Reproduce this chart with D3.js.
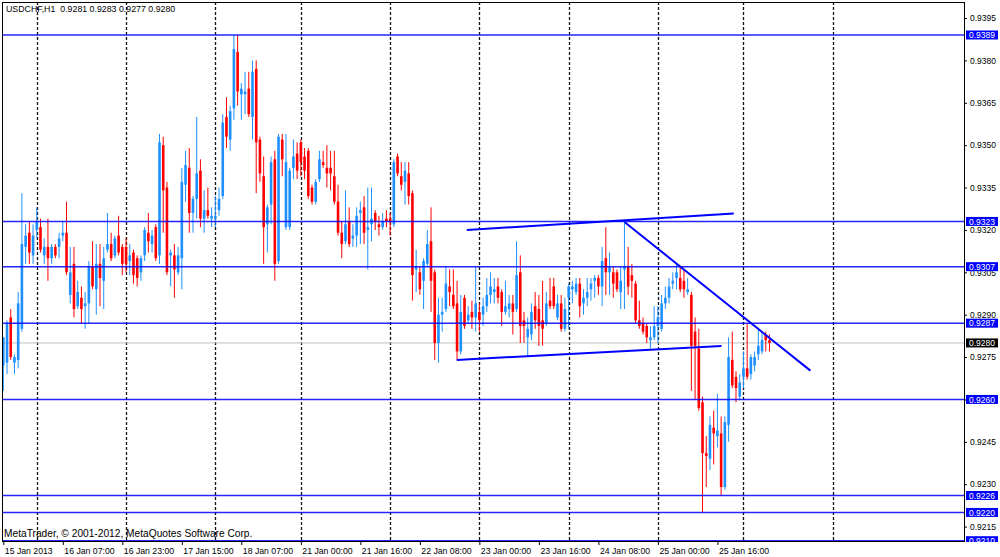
<!DOCTYPE html>
<html lang="en">
<head>
<meta charset="utf-8">
<title>USDCHF H1</title>
<script src="https://cdn.jsdelivr.net/npm/d3@7/dist/d3.min.js"></script>
<style>
body { margin: 0; background: #fff; }
svg { display: block; font-family: "Liberation Sans", Arial, sans-serif; }
</style>
</head>
<body>
<svg id="chart" width="1000" height="557"></svg>
<script>
// hourly bars
var opens = [
0.9272,0.9273,0.9289,0.9273,0.9274,0.9285,0.9314,0.9319,0.9311,0.9320,
0.9321,0.9311,0.9314,0.9310,0.9314,0.9314,0.9318,0.9319,0.9297,0.9308,
0.9293,0.9296,0.9293,0.9294,0.9307,0.9299,0.9308,0.9302,0.9313,0.9315,
0.9311,0.9318,0.9314,0.9314,0.9309,0.9312,0.9310,0.9305,0.9311,0.9319,
0.9315,0.9321,0.9311,0.9350,0.9335,0.9311,0.9311,0.9305,0.9310,0.9336,
0.9342,0.9326,0.9331,0.9341,0.9324,0.9327,0.9324,0.9324,0.9327,0.9332,
0.9360,0.9352,0.9363,0.9383,0.9368,0.9368,0.9370,0.9360,0.9377,0.9352,
0.9339,0.9322,0.9329,0.9345,0.9309,0.9352,0.9321,0.9321,0.9342,0.9347,
0.9351,0.9346,0.9348,0.9335,0.9330,0.9338,0.9344,0.9342,0.9342,0.9339,
0.9330,0.9319,0.9316,0.9323,0.9317,0.9318,0.9326,0.9328,0.9320,0.9322,
0.9326,0.9322,0.9321,0.9324,0.9324,0.9322,0.9346,0.9339,0.9337,0.9340,
0.9333,0.9306,0.9305,0.9302,0.9308,0.9316,0.9305,0.9280,0.9290,0.9292,
0.9300,0.9297,0.9294,0.9277,0.9296,0.9288,0.9291,0.9289,0.9291,0.9290,
0.9293,0.9297,0.9298,0.9300,0.9298,0.9291,0.9292,0.9294,0.9292,0.9305,
0.9288,0.9282,0.9283,0.9293,0.9292,0.9288,0.9287,0.9295,0.9300,0.9289,
0.9294,0.9285,0.9296,0.9299,0.9298,0.9301,0.9294,0.9296,0.9299,0.9302,
0.9303,0.9300,0.9310,0.9305,0.9305,0.9305,0.9298,0.9306,0.9307,0.9304,
0.9301,0.9288,0.9287,0.9286,0.9281,0.9282,0.9286,0.9285,0.9294,0.9296,
0.9301,0.9303,0.9303,0.9302,0.9298,0.9297,0.9284,0.9278,0.9259,0.9241,
0.9239,0.9250,0.9247,0.9248,0.9229,0.9251,0.9274,0.9268,0.9261,0.9268,
0.9271,0.9269,0.9272,0.9276,0.9277,0.9283,0.9281];
var highs = [
0.9282,0.9288,0.9292,0.9276,0.9298,0.9333,0.9322,0.9323,0.9322,0.9328,
0.9324,0.9317,0.9324,0.9315,0.9315,0.9319,0.9323,0.9330,0.9314,0.9314,
0.9302,0.9300,0.9298,0.9309,0.9316,0.9315,0.9315,0.9314,0.9326,0.9319,
0.9318,0.9325,0.9315,0.9317,0.9315,0.9313,0.9311,0.9311,0.9321,0.9326,
0.9320,0.9322,0.9354,0.9353,0.9337,0.9313,0.9315,0.9314,0.9342,0.9348,
0.9349,0.9332,0.9360,0.9345,0.9334,0.9335,0.9328,0.9332,0.9335,0.9361,
0.9367,0.9364,0.9389,0.9389,0.9372,0.9376,0.9376,0.9380,0.9380,0.9353,
0.9346,0.9329,0.9346,0.9348,0.9354,0.9354,0.9354,0.9342,0.9352,0.9351,
0.9352,0.9349,0.9349,0.9336,0.9338,0.9348,0.9348,0.9350,0.9348,0.9348,
0.9336,0.9323,0.9334,0.9328,0.9322,0.9328,0.9330,0.9332,0.9335,0.9335,
0.9327,0.9325,0.9326,0.9327,0.9326,0.9345,0.9347,0.9344,0.9344,0.9344,
0.9334,0.9313,0.9307,0.9310,0.9320,0.9328,0.9306,0.9296,0.9296,0.9307,
0.9306,0.9306,0.9302,0.9297,0.9297,0.9293,0.9295,0.9307,0.9294,0.9296,
0.9303,0.9305,0.9303,0.9303,0.9299,0.9302,0.9297,0.9297,0.9316,0.9311,
0.9291,0.9289,0.9294,0.9298,0.9297,0.9302,0.9298,0.9303,0.9303,0.9297,
0.9297,0.9296,0.9301,0.9302,0.9303,0.9303,0.9299,0.9303,0.9303,0.9304,
0.9304,0.9314,0.9321,0.9312,0.9307,0.9306,0.9307,0.9323,0.9314,0.9308,
0.9302,0.9295,0.9289,0.9287,0.9286,0.9293,0.9293,0.9297,0.9300,0.9303,
0.9305,0.9308,0.9307,0.9306,0.9303,0.9298,0.9289,0.9285,0.9261,0.9247,
0.9254,0.9256,0.9262,0.9254,0.9254,0.9282,0.9284,0.9270,0.9269,0.9277,
0.9287,0.9276,0.9277,0.9285,0.9284,0.9284,0.9283];
var lows = [
0.9263,0.9269,0.9274,0.9269,0.9271,0.9284,0.9308,0.9308,0.9308,0.9317,
0.9312,0.9308,0.9302,0.9308,0.9310,0.9310,0.9316,0.9304,0.9294,0.9289,
0.9292,0.9287,0.9285,0.9287,0.9299,0.9290,0.9293,0.9292,0.9312,0.9309,
0.9310,0.9311,0.9304,0.9305,0.9304,0.9301,0.9300,0.9302,0.9309,0.9312,
0.9312,0.9309,0.9308,0.9319,0.9304,0.9300,0.9296,0.9304,0.9299,0.9330,
0.9319,0.9319,0.9324,0.9321,0.9319,0.9324,0.9321,0.9321,0.9325,0.9331,
0.9349,0.9348,0.9359,0.9364,0.9359,0.9361,0.9360,0.9352,0.9333,0.9337,
0.9308,0.9312,0.9322,0.9302,0.9308,0.9339,0.9320,0.9320,0.9338,0.9338,
0.9339,0.9338,0.9331,0.9329,0.9329,0.9337,0.9342,0.9335,0.9334,0.9329,
0.9318,0.9310,0.9315,0.9314,0.9314,0.9314,0.9315,0.9315,0.9306,0.9316,
0.9320,0.9318,0.9320,0.9321,0.9318,0.9321,0.9339,0.9334,0.9329,0.9329,
0.9295,0.9298,0.9297,0.9292,0.9307,0.9291,0.9274,0.9273,0.9284,0.9291,
0.9293,0.9292,0.9274,0.9276,0.9285,0.9287,0.9285,0.9284,0.9284,0.9286,
0.9291,0.9294,0.9294,0.9294,0.9286,0.9290,0.9289,0.9283,0.9291,0.9280,
0.9280,0.9275,0.9281,0.9285,0.9279,0.9279,0.9286,0.9292,0.9292,0.9288,
0.9284,0.9284,0.9285,0.9294,0.9297,0.9289,0.9290,0.9293,0.9295,0.9296,
0.9297,0.9293,0.9297,0.9297,0.9296,0.9298,0.9292,0.9292,0.9297,0.9296,
0.9287,0.9285,0.9283,0.9280,0.9278,0.9281,0.9280,0.9284,0.9292,0.9294,
0.9299,0.9299,0.9298,0.9296,0.9297,0.9263,0.9260,0.9256,0.9220,0.9229,
0.9235,0.9237,0.9243,0.9226,0.9228,0.9245,0.9264,0.9259,0.9260,0.9264,
0.9267,0.9267,0.9270,0.9274,0.9276,0.9277,0.9277];
var closes = [
0.9282,0.9287,0.9275,0.9275,0.9294,0.9315,0.9318,0.9312,0.9318,0.9323,
0.9313,0.9314,0.9310,0.9314,0.9311,0.9317,0.9319,0.9305,0.9305,0.9292,
0.9298,0.9292,0.9294,0.9307,0.9300,0.9308,0.9303,0.9310,0.9315,0.9310,
0.9317,0.9312,0.9308,0.9308,0.9311,0.9304,0.9303,0.9310,0.9320,0.9316,
0.9318,0.9310,0.9351,0.9334,0.9305,0.9312,0.9306,0.9311,0.9337,0.9343,
0.9326,0.9331,0.9340,0.9324,0.9327,0.9325,0.9325,0.9325,0.9331,0.9358,
0.9353,0.9362,0.9384,0.9369,0.9370,0.9369,0.9361,0.9376,0.9351,0.9340,
0.9321,0.9328,0.9344,0.9308,0.9353,0.9345,0.9344,0.9341,0.9346,0.9341,
0.9344,0.9341,0.9332,0.9330,0.9337,0.9345,0.9343,0.9340,0.9340,0.9330,
0.9319,0.9315,0.9322,0.9315,0.9318,0.9325,0.9327,0.9319,0.9321,0.9324,
0.9323,0.9321,0.9323,0.9323,0.9323,0.9344,0.9340,0.9336,0.9341,0.9332,
0.9304,0.9307,0.9299,0.9309,0.9315,0.9302,0.9280,0.9290,0.9291,0.9301,
0.9298,0.9293,0.9277,0.9291,0.9286,0.9290,0.9289,0.9294,0.9288,0.9293,
0.9297,0.9300,0.9299,0.9296,0.9291,0.9293,0.9294,0.9291,0.9304,0.9286,
0.9286,0.9285,0.9291,0.9288,0.9286,0.9285,0.9294,0.9293,0.9293,0.9294,
0.9285,0.9292,0.9300,0.9300,0.9301,0.9293,0.9296,0.9298,0.9301,0.9303,
0.9300,0.9309,0.9305,0.9307,0.9301,0.9299,0.9302,0.9307,0.9300,0.9302,
0.9288,0.9286,0.9284,0.9282,0.9282,0.9286,0.9289,0.9294,0.9296,0.9300,
0.9302,0.9305,0.9299,0.9299,0.9299,0.9279,0.9279,0.9257,0.9241,0.9240,
0.9251,0.9248,0.9249,0.9229,0.9252,0.9275,0.9265,0.9264,0.9266,0.9271,
0.9268,0.9275,0.9275,0.9279,0.9281,0.9281,0.9280];

var title = 'USDCHF,H1  0.9281 0.9283 0.9277 0.9280';
var copyright = 'MetaTrader, \u00a9 2001-2012, MetaQuotes Software Corp.';

// time scale labels every 16 bars
var timeTickBars = [0,16,32,48,64,80,96,112,128,144,160,176,192];
var timeLabels = ['15 Jan 2013','16 Jan 07:00','16 Jan 23:00','17 Jan 15:00','18 Jan 07:00',
  '21 Jan 00:00','21 Jan 16:00','22 Jan 08:00','23 Jan 00:00','23 Jan 16:00',
  '24 Jan 08:00','25 Jan 00:00','25 Jan 16:00'];
// bars where a new day starts (dashed grid)
var dayBars = [9,33,57,80,104,128,152,176,199,223];

var priceTicks = [0.9395,0.9380,0.9365,0.9350,0.9335,0.9320,0.9305,0.9290,0.9275,0.9260,0.9245,0.9230,0.9215];
var levels = [0.9389,0.9323,0.9307,0.9287,0.9260,0.9226,0.9220,0.9210];
var lastPrice = 0.9280;

// trend lines: [bar1, price1, bar2, price2]
var trendLines = [
  [124.6, 0.93200, 196.4, 0.93258],
  [121.9, 0.92740, 193.1, 0.92789],
  [167.1, 0.93227, 217.0, 0.92702]
];

var bull = '#1e90ff', bear = '#ff0000', lineBlue = '#0000ff';
var L = 2, T = 2, R = 964, B = 541;
var font = '"Liberation Sans", Arial, sans-serif';

var svg = d3.select('#chart');
var x = d3.scaleLinear().domain([-0.35, 258.3]).range([L, R]);
var y = d3.scaleLinear().domain([0.9210, 0.9389]).range([540.7, 35]);

var defs = svg.append('defs');
defs.append('clipPath').attr('id', 'plot')
  .append('rect').attr('x', L).attr('y', T).attr('width', R - L).attr('height', B - T);
defs.append('clipPath').attr('id', 'axisclip')
  .append('rect').attr('x', R).attr('y', 0).attr('width', 1000 - R).attr('height', B + 1);

svg.append('rect').attr('width', 1000).attr('height', 557).attr('fill', '#fff');

var plot = svg.append('g').attr('clip-path', 'url(#plot)');

// day separators
plot.selectAll('line.day').data(dayBars).join('line')
  .attr('class', 'day')
  .attr('x1', d => Math.round(x(d)) + 0.5).attr('x2', d => Math.round(x(d)) + 0.5)
  .attr('y1', T).attr('y2', B)
  .attr('stroke', '#111').attr('stroke-width', 1.3).attr('stroke-dasharray', '3,2');

// bid line
plot.append('line')
  .attr('x1', L).attr('x2', R).attr('y1', y(lastPrice)).attr('y2', y(lastPrice))
  .attr('stroke', '#c0c0c0').attr('stroke-width', 1);

var bars = d3.range(opens.length).map(i => ({i: i, o: opens[i], h: highs[i], l: lows[i], c: closes[i]}));
var col = d => d.c >= d.o ? bull : bear;

plot.selectAll('line.wick').data(bars).join('line')
  .attr('class', 'wick')
  .attr('x1', d => x(d.i)).attr('x2', d => x(d.i))
  .attr('y1', d => y(d.h)).attr('y2', d => y(d.l))
  .attr('stroke', col).attr('stroke-width', 1);

plot.selectAll('rect.body').data(bars).join('rect')
  .attr('class', 'body')
  .attr('x', d => x(d.i) - 1.3).attr('width', 2.6)
  .attr('y', d => y(Math.max(d.o, d.c)))
  .attr('height', d => Math.max(1, Math.abs(y(d.o) - y(d.c))))
  .attr('fill', col);

// horizontal levels
plot.selectAll('line.level').data(levels).join('line')
  .attr('class', 'level')
  .attr('x1', L).attr('x2', R).attr('y1', d => y(d)).attr('y2', d => y(d))
  .attr('stroke', lineBlue).attr('stroke-width', 1.5).attr('opacity', 0.85);

// trend lines
plot.selectAll('line.trend').data(trendLines).join('line')
  .attr('class', 'trend')
  .attr('x1', d => x(d[0])).attr('y1', d => y(d[1]))
  .attr('x2', d => x(d[2])).attr('y2', d => y(d[3]))
  .attr('stroke', lineBlue).attr('stroke-width', 2);

// frame
svg.append('rect').attr('x', L + 0.5).attr('y', T + 0.5).attr('width', R - L).attr('height', B - T)
  .attr('fill', 'none').attr('stroke', '#000').attr('stroke-width', 1);

svg.append('text').attr('x', 6).attr('y', 12).attr('font-size', 8.8).attr('fill', '#000')
  .style('white-space', 'pre').text(title);
svg.append('text').attr('x', 4).attr('y', 537).attr('font-size', 10.2).attr('fill', '#000')
  .text(copyright);

// price axis
var yAxis = d3.axisRight(y).tickValues(priceTicks).tickSize(3).tickPadding(3)
  .tickFormat(d3.format('.4f'));
var ya = svg.append('g').attr('transform', 'translate(' + R + ',0)').call(yAxis);
ya.select('.domain').remove();
ya.selectAll('text').attr('font-size', 8.5).attr('font-family', font).attr('fill', '#000');
ya.selectAll('line').attr('stroke', '#000');

// time axis
var xAxis = d3.axisBottom(x).tickValues(timeTickBars).tickSize(4).tickPadding(3)
  .tickFormat((d, i) => timeLabels[i]);
var xa = svg.append('g').attr('transform', 'translate(0,' + B + ')').call(xAxis);
xa.select('.domain').remove();
xa.selectAll('text').attr('text-anchor', 'start').attr('x', 1)
  .attr('font-size', 8.7).attr('font-family', font).attr('fill', '#000');
xa.selectAll('line').attr('stroke', '#000');

// price labels on the axis
var tags = svg.append('g').attr('clip-path', 'url(#axisclip)');
var lv = tags.selectAll('g.tag').data(levels).join('g')
  .attr('class', 'tag').attr('transform', d => 'translate(966,' + y(d) + ')');
lv.append('rect').attr('x', 0).attr('y', -4.5).attr('width', 32).attr('height', 9).attr('fill', lineBlue);
lv.append('text').attr('x', 3).attr('y', 3.2).attr('font-size', 8.5).attr('fill', '#fff')
  .text(d => d3.format('.4f')(d));

var bid = tags.append('g').attr('transform', 'translate(966,' + y(lastPrice) + ')');
bid.append('rect').attr('x', 0).attr('y', -4.5).attr('width', 32).attr('height', 9).attr('fill', '#000');
bid.append('text').attr('x', 3).attr('y', 3.2).attr('font-size', 8.5).attr('fill', '#fff')
  .text(d3.format('.4f')(lastPrice));
</script>
</body>
</html>
